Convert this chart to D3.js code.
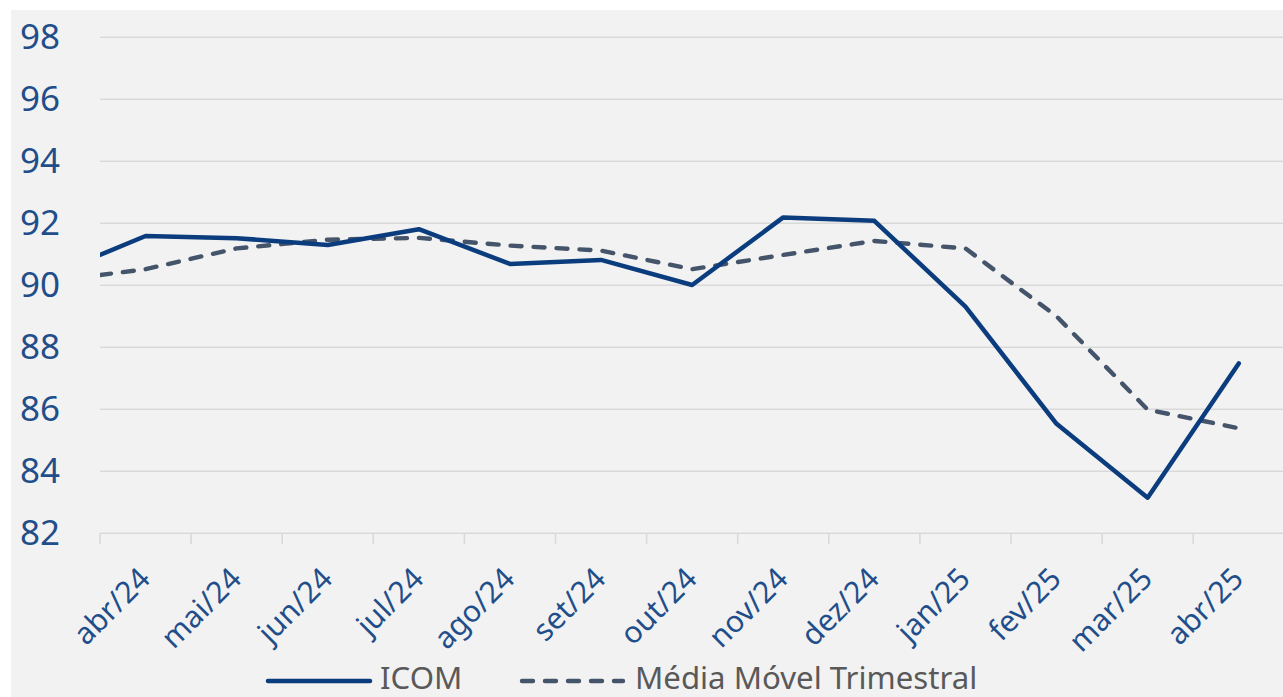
<!DOCTYPE html>
<html>
<head>
<meta charset="utf-8">
<script src="https://cdn.jsdelivr.net/npm/d3@7"></script>
<style>
  html, body { margin: 0; padding: 0; background: #ffffff; }
  svg { display: block; }
</style>
</head>
<body>
<svg id="chart" width="1283" height="697"></svg>
<script>
// ---- data ----
const months = ["abr/24","mai/24","jun/24","jul/24","ago/24","set/24","out/24","nov/24","dez/24","jan/25","fev/25","mar/25","abr/25"];
const icom   = [91.59, 91.52, 91.30, 91.81, 90.69, 90.82, 90.01, 92.19, 92.08, 89.31, 85.53, 83.15, 87.48];
const mediaMovel = [90.52, 91.19, 91.47, 91.53, 91.28, 91.12, 90.52, 90.98, 91.43, 91.19, 89.00, 85.99, 85.39];
// value of the month before the first one (line enters the plot from the left edge)
const icomPrev = 90.37;
const mediaMovelPrev = 90.14;
const yTicks = [82, 84, 86, 88, 90, 92, 94, 96, 98];
const seriesNames = ["ICOM", "Média Móvel Trimestral"];

// ---- layout ----
const W = 1283, H = 697;
const plotLeft = 100, plotRight = 1284.3, plotTop = 37.3, plotBottom = 533.3;
const svg = d3.select("#chart");

svg.append("rect").attr("x", 11).attr("y", 10).attr("width", W - 11).attr("height", H - 10).attr("fill", "#f2f2f2");

const x = d3.scaleBand().domain(months).range([plotLeft, plotRight]).padding(0);
const step = x.step();
const cx = d => x(d) + step / 2;
const y = d3.scaleLinear().domain([82, 98]).range([plotBottom, plotTop]);

// gridlines
svg.append("g").selectAll("line").data(yTicks).join("line")
  .attr("x1", plotLeft).attr("x2", W)
  .attr("y1", d => y(d)).attr("y2", d => y(d))
  .attr("stroke", "#d9d9d9").attr("stroke-width", 1.6);

// x tick marks at category boundaries
svg.append("g").selectAll("line").data(months).join("line")
  .attr("x1", d => x(d)).attr("x2", d => x(d))
  .attr("y1", plotBottom).attr("y2", plotBottom + 11)
  .attr("stroke", "#d9d9d9").attr("stroke-width", 1.6);

// y axis labels
const yAxis = d3.axisLeft(y).tickValues(yTicks).tickSize(0).tickPadding(40).tickFormat(d3.format("d"));
const gy = svg.append("g").attr("transform", `translate(${plotLeft},0)`).call(yAxis);
gy.select(".domain").remove();
gy.selectAll("text").attr("font-family", "'Noto Sans', sans-serif").attr("font-size", 35).attr("fill", "#1f4e8a");

// x axis labels (rotated)
svg.append("g").selectAll("text").data(months).join("text")
  .attr("transform", d => `translate(${cx(d) - 1},${plotBottom + 40}) rotate(-45)`)
  .attr("text-anchor", "end")
  .attr("dy", "0.35em")
  .attr("font-family", "'Noto Sans', sans-serif")
  .attr("font-size", 30)
  .attr("fill", "#1f4e8a")
  .text(d => d);

// clip
svg.append("clipPath").attr("id", "plotclip").append("rect")
  .attr("x", plotLeft).attr("y", 0).attr("width", W - plotLeft).attr("height", H);

const line = d3.line().x(d => d.x).y(d => y(d.v));
const toPts = (prev, arr) => [{x: cx(months[0]) - step, v: prev}].concat(arr.map((v, i) => ({x: cx(months[i]), v})));

const lines = svg.append("g").attr("clip-path", "url(#plotclip)");
lines.append("path").datum(toPts(mediaMovelPrev, mediaMovel))
  .attr("d", line).attr("fill", "none")
  .attr("stroke", "#44546a").attr("stroke-width", 4.4)
  .attr("stroke-dasharray", "11,12").attr("stroke-linecap", "round").attr("stroke-linejoin", "round");
lines.append("path").datum(toPts(icomPrev, icom))
  .attr("d", line).attr("fill", "none")
  .attr("stroke", "#0b3d7e").attr("stroke-width", 4.5)
  .attr("stroke-linecap", "round").attr("stroke-linejoin", "round");

// legend
const lg = svg.append("g");
const legY = 681;
lg.append("line").attr("x1", 268).attr("x2", 370).attr("y1", legY).attr("y2", legY)
  .attr("stroke", "#0b3d7e").attr("stroke-width", 4.5).attr("stroke-linecap", "round");
lg.append("text").attr("x", 380).attr("y", 688.5)
  .attr("font-family", "'Noto Sans', sans-serif").attr("font-size", 31.2).attr("fill", "#595959")
  .text(seriesNames[0]);
lg.append("line").attr("x1", 522).attr("x2", 623).attr("y1", legY).attr("y2", legY)
  .attr("stroke", "#44546a").attr("stroke-width", 4.4)
  .attr("stroke-dasharray", "11,12").attr("stroke-linecap", "round");
lg.append("text").attr("x", 635).attr("y", 688.5)
  .attr("font-family", "'Noto Sans', sans-serif").attr("font-size", 31.2).attr("fill", "#595959")
  .text(seriesNames[1]);
</script>
</body>
</html>
